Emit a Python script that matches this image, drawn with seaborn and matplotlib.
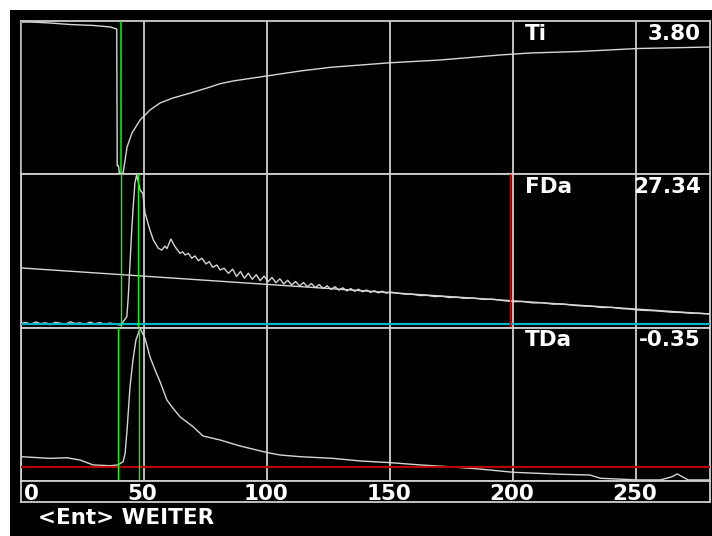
import matplotlib
matplotlib.use("Agg")
import matplotlib.pyplot as plt
from matplotlib.patches import Rectangle
import seaborn as sns

# ---- trace data (time axis 0..280, each channel scaled 0..100 of its panel) ----
ti_x = [0, 4.5, 11.8, 20.0, 29.3, 36.2, 38.9, 39.0, 39.1, 39.6, 40.0, 40.8, 41.5,
        43.1, 45.1, 48.4, 52.4, 56.5, 61.8, 67.5, 75.6, 80.9, 86.2, 100.4, 113.4,
        125.6, 150.0, 170.3, 194.7, 206.9, 227.2, 250.4, 280.0]
ti_y = [99.3, 99.3, 98.7, 97.7, 97.1, 96.1, 94.8, 55.0, 5.4, 5.4, 0.5, 0.5, 0.7,
        17.6, 26.8, 35.3, 41.8, 46.4, 49.7, 52.3, 56.2, 59.0, 60.8, 64.2, 67.3,
        69.7, 72.7, 74.5, 77.8, 79.1, 80.1, 82.0, 83.0]

fda_x = [0, 2, 4, 6, 8, 10, 12, 14, 16, 18, 20, 22, 24, 26, 28, 30, 32, 34, 36, 38, 40,
         40.5, 43.0, 43.6, 44.3, 45.0, 45.7, 46.3, 47.0, 48.4, 49.5, 50.4, 52.4, 53.8,
         55.8, 57.2, 58.5, 59.3, 60.9, 62.5, 64.6, 65.7, 66.7, 68.0, 69.4, 70.7, 72.1,
         73.5, 75.2, 76.5, 77.9, 79.6, 80.9, 82.5, 84.3,
         86.0, 87.6, 89.2, 90.8, 92.4, 94.0, 95.6, 97.2, 98.8, 100.4, 102.0, 103.6,
         105.2, 106.8, 108.4, 110.0, 111.6, 113.2, 114.8, 116.4, 118.0, 119.6, 121.2,
         122.8, 124.4, 126.0, 127.6, 129.2, 130.8, 132.4, 134.0, 135.6, 137.2, 138.8,
         140.4, 142.0, 143.6, 145.2, 146.8, 148.4, 150.0,
         153, 156, 159, 162, 165, 168, 171, 174, 177, 180, 184, 188, 192, 196, 200,
         204, 208, 212, 216, 220, 224, 228, 232, 236, 240, 244, 248, 252, 256, 260,
         264, 268, 272, 276, 280]
fda_y = [3.0, 3.6, 2.4, 3.9, 2.8, 3.4, 2.2, 3.7, 3.1, 2.5, 4.0, 2.9, 3.3, 2.3, 3.8, 2.7,
         3.5, 2.4, 3.2, 2.6, 2.0,
         1.9, 7.3, 20.3, 42.2, 63.6, 81.2, 94.2, 99.4, 89.6, 87.5, 74.7, 63.6, 57.1,
         51.8, 50.6, 53.2, 51.5, 57.8, 53.0, 48.5, 49.5, 47.4, 48.5, 45.3, 46.8, 43.7,
         45.3, 41.6, 43.1, 39.4, 40.9, 37.7, 38.8, 35.5,
         38.2, 33.5, 36.7, 32.3, 35.6, 31.6, 34.6, 30.8, 33.7, 30.1, 32.8, 29.4,
         31.9, 28.6, 31.0, 27.9, 30.2, 27.3, 29.5, 26.8, 28.9, 26.3, 28.2,
         25.6, 27.4, 25.1, 26.8, 24.6, 26.1, 24.1, 25.6, 23.8, 25.2, 23.5,
         24.7, 23.1, 24.2, 22.8, 23.9, 22.6, 23.4,
         22.6, 22.0, 21.9, 21.1, 21.2, 20.4, 20.6, 19.8, 20.0, 19.3, 19.4, 18.6, 18.7,
         17.8, 17.1, 17.2, 16.3, 16.4, 15.5, 15.6, 14.8, 14.3, 14.1, 13.3, 13.4, 12.6,
         12.2, 11.5, 11.3, 10.9, 10.3, 10.1, 9.6, 9.5, 9.1]

# straight reference ramp in the FDa panel
ramp_x = [0, 280]
ramp_y = [39.0, 9.1]

tda_x = [0, 11.8, 18.7, 24.0, 29.3, 36.2, 39.4, 41.5, 42.3, 43.1, 44.3, 45.5, 46.7,
         48.4, 50.4, 52.4, 54.5, 56.5, 59.3, 61.8, 64.6, 69.9, 74.0, 80.9, 89.0,
         100.0, 105.3, 113.4, 126.8, 137.8, 150.0, 162.2, 174.4, 186.6, 200.0, 219.1,
         231.3, 235.4, 250.4, 259.8, 264.6, 266.7, 271.1, 280.0]
tda_y = [15.9, 14.8, 15.2, 13.7, 10.5, 10.0, 10.5, 12.6, 18.1, 33.3, 61.6, 79.1, 92.2,
         99.8, 93.3, 81.2, 72.5, 64.9, 52.9, 47.5, 42.0, 35.5, 29.4, 26.8, 22.9,
         18.6, 17.0, 15.9, 14.8, 13.1, 12.0, 10.5, 9.3, 7.8, 5.7, 4.4,
         3.9, 1.8, 0.7, 0.7, 2.8, 4.6, 0.7, 0.7]

# cursor and threshold markers
cursor_ti = [0.0, 40.5]
cursor_fda = [40.5, 47.6]
cursor_tda = [39.6, 48.0]
marker_fda_red = 198.9
fda_base_level = 2.6
tda_threshold = 9.2

x_ticks = [0, 50, 100, 150, 200, 250]
x_tick_labels = ["0", "50", "100", "150", "200", "250"]
channel_names = ["Ti", "FDa", "TDa"]
channel_values = ["3.80", "27.34", "-0.35"]
footer = "<Ent> WEITER"

# ---- styling ----
sns.set_style("dark", {"axes.facecolor": "black", "figure.facecolor": "white"})
plt.rcParams["font.family"] = ["DejaVu Sans", "DejaVu Sans Mono"]

W, H = 712, 536
fig = plt.figure(figsize=(W / 100, H / 100), dpi=100)


def fx(px):
    return px / W


def fy(py):
    return 1 - py / H


# black screen area
fig.add_artist(Rectangle((fx(10), 0), 1 - fx(10), fy(10), transform=fig.transFigure,
                         facecolor="black", edgecolor="none", zorder=-10))

GRID = "#cfcfcf"
TRACE = "#d6d6d6"
LEFT, RIGHT = 21, 710
panels = [(21, 174), (174, 328), (328, 481)]
axes = []
for top, bot in panels:
    ax = fig.add_axes([fx(LEFT), fy(bot), fx(RIGHT) - fx(LEFT), (bot - top) / H])
    ax.set_facecolor("black")
    ax.set_xlim(0, 280)
    ax.set_ylim(0, 100)
    ax.set_xticks(x_ticks)
    ax.set_yticks([])
    ax.tick_params(axis="x", length=0, labelbottom=False)
    ax.grid(axis="x", color=GRID, lw=1.3)
    ax.grid(axis="y", visible=False)
    for s in ax.spines.values():
        s.set_color(GRID)
        s.set_linewidth(1.3)
        s.set_visible(True)
    axes.append(ax)

ax1, ax2, ax3 = axes

# Ti panel
sns.lineplot(x=ti_x, y=ti_y, ax=ax1, sort=False, estimator=None, color=TRACE, lw=1.0)
for c in cursor_ti:
    ax1.axvline(c, color="#00ff00", lw=1.1 if c > 0 else 1.4, zorder=5)

# FDa panel
ax2.axhline(fda_base_level, color="#00b4c4", lw=1.6, zorder=4)
sns.lineplot(x=ramp_x, y=ramp_y, ax=ax2, sort=False, estimator=None, color=TRACE, lw=1.0)
sns.lineplot(x=fda_x, y=fda_y, ax=ax2, sort=False, estimator=None, color=TRACE, lw=1.0)
for c in cursor_fda:
    ax2.axvline(c, color="#00ff00", lw=1.0, zorder=5)
ax2.axvline(marker_fda_red, color="#e00000", lw=1.0, zorder=5)

# TDa panel
ax3.axhline(tda_threshold, color="#b80000", lw=1.6, zorder=4)
sns.lineplot(x=tda_x, y=tda_y, ax=ax3, sort=False, estimator=None, color=TRACE, lw=1.0)
for c in cursor_tda:
    ax3.axvline(c, color="#00ff00", lw=1.0, zorder=5)

for ax in axes:
    if ax.get_legend():
        ax.get_legend().remove()
    ax.set_xlabel("")
    ax.set_ylabel("")

# time-scale strip
axs = fig.add_axes([fx(LEFT), fy(502), fx(RIGHT) - fx(LEFT), 21 / H])
axs.set_facecolor("black")
axs.set_xlim(0, 280)
axs.set_ylim(0, 1)
axs.set_xticks([])
axs.set_yticks([])
axs.grid(False)
for s in axs.spines.values():
    s.set_color(GRID)
    s.set_linewidth(1.3)
    s.set_visible(True)
for v, lab in zip(x_ticks, x_tick_labels):
    if v == 0:
        axs.text(1.4, 0.1, lab, ha="left", va="baseline", color="white",
                 fontsize=15.5, fontweight="bold")
    else:
        axs.text(v - 0.6, 0.1, lab, ha="center", va="baseline", color="white",
                 fontsize=15.5, fontweight="bold")

# channel readouts
baselines = [40, 193, 346]
for name, val, base in zip(channel_names, channel_values, baselines):
    fig.text(fx(525), fy(base), name, ha="left", va="baseline", color="white",
             fontsize=15.5, fontweight="bold", zorder=20)
    fig.text(fx(701), fy(base), val, ha="right", va="baseline", color="white",
             fontsize=15.5, fontweight="bold", zorder=20)

fig.text(fx(38), fy(524), footer, ha="left", va="baseline", color="white",
         fontsize=15.5, fontweight="bold")

fig.savefig("out.png", dpi=100, facecolor="white")
